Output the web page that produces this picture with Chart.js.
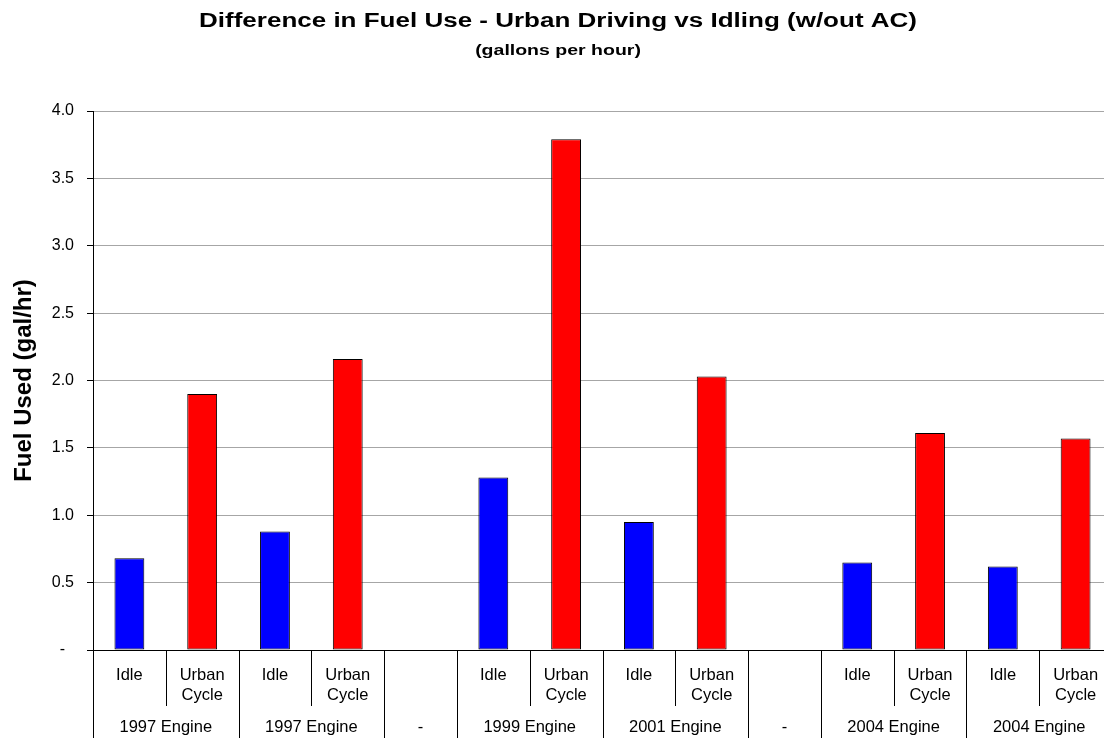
<!DOCTYPE html>
<html>
<head>
<meta charset="utf-8">
<title>Difference in Fuel Use - Urban Driving vs Idling (w/out AC)</title>
<script src="https://cdn.jsdelivr.net/npm/chart.js@4.4.1/dist/chart.umd.min.js"></script>
<style>
  html, body { margin: 0; padding: 0; background: #fff; overflow: hidden; }
  #wrap { position: relative; width: 1112px; height: 738px; }
</style>
</head>
<body>
<div id="wrap"><canvas id="fuel"></canvas></div>
<script>
// Engine test groups along the bottom axis ("-" marks an empty spacer column)
const engineGroups = ["1997 Engine", "1997 Engine", "-", "1999 Engine", "2001 Engine", "-", "2004 Engine", "2004 Engine"];
// Fuel burned, gallons per hour
const idleUse  = [0.68, 0.88, null, 1.28, 0.95, null, 0.65, 0.62];
const urbanUse = [1.90, 2.16, null, 3.79, 2.03, null, 1.61, 1.57];
// Per-column labels within each engine group
const modeLabels = ["Idle", "Urban Cycle"];
// Vertical axis ticks
const yTicks = [0, 0.5, 1.0, 1.5, 2.0, 2.5, 3.0, 3.5, 4.0];

const FONT = "'Liberation Sans', Arial, Helvetica, sans-serif";

// Expand the groups into individual columns
const columns = [];      // label for each column
const idleSeries = [];
const urbanSeries = [];
const groupSpans = [];   // [firstColumn, lastColumn, label]
engineGroups.forEach((g, gi) => {
  const start = columns.length;
  if (g === "-") {
    columns.push("");
    idleSeries.push(null);
    urbanSeries.push(null);
  } else {
    columns.push(modeLabels[0]);
    idleSeries.push(idleUse[gi]);
    urbanSeries.push(null);
    columns.push(modeLabels[1]);
    idleSeries.push(null);
    urbanSeries.push(urbanUse[gi]);
  }
  groupSpans.push([start, columns.length - 1, g]);
});

// Title, vertical axis title and the two-level category labels
const decorations = {
  id: "decorations",
  afterDraw(chart) {
    const ctx = chart.ctx;
    const xs = chart.scales.x;
    const area = chart.chartArea;
    ctx.save();
    ctx.fillStyle = "#000";

    // Heading (set slightly wide)
    const cx = 558;
    ctx.textAlign = "center";
    ctx.textBaseline = "alphabetic";
    ctx.save();
    ctx.translate(cx, 27);
    ctx.scale(1.3, 1);
    ctx.font = "bold 20px " + FONT;
    ctx.fillText("Difference in Fuel Use - Urban Driving vs Idling (w/out AC)", 0, 0);
    ctx.restore();
    ctx.save();
    ctx.translate(cx, 55);
    ctx.scale(1.3, 1);
    ctx.font = "bold 15px " + FONT;
    ctx.fillText("(gallons per hour)", 0, 0);
    ctx.restore();

    // Vertical axis title
    ctx.save();
    ctx.translate(31, (area.top + area.bottom) / 2);
    ctx.rotate(-Math.PI / 2);
    ctx.font = "bold 24px " + FONT;
    ctx.fillText("Fuel Used (gal/hr)", 0, 0);
    ctx.restore();

    // Column labels
    const step = xs.getPixelForValue(1) - xs.getPixelForValue(0);
    ctx.font = "16.5px " + FONT;
    columns.forEach((lab, i) => {
      const px = xs.getPixelForValue(i);
      lab.split(" ").forEach((line, k) => {
        if (line) ctx.fillText(line, px, 680 + k * 20);
      });
    });

    // Separators: short ones between columns, full ones between groups
    ctx.strokeStyle = "#000";
    ctx.lineWidth = 1;
    const groupEdges = new Set();
    groupSpans.forEach(([a, b]) => { groupEdges.add(a); groupEdges.add(b + 1); });
    for (let i = 0; i <= columns.length; i++) {
      const bx = Math.round(xs.getPixelForValue(i) - step / 2) + 0.5;
      const y2 = groupEdges.has(i) ? chart.height : 706;
      ctx.beginPath();
      ctx.moveTo(bx, area.bottom);
      ctx.lineTo(bx, y2);
      ctx.stroke();
    }

    // Engine group labels
    groupSpans.forEach(([a, b, lab]) => {
      const px = (xs.getPixelForValue(a) + xs.getPixelForValue(b)) / 2;
      ctx.fillText(lab, px, 732);
    });
    ctx.restore();
  }
};

new Chart(document.getElementById("fuel"), {
  type: "bar",
  data: {
    labels: columns,
    datasets: [
      {
        label: "Idle",
        data: idleSeries,
        backgroundColor: "#0000ff",
        borderColor: "#000",
        borderWidth: 1,
        borderSkipped: false,
        grouped: false,
        categoryPercentage: 1,
        barPercentage: 0.41
      },
      {
        label: "Urban Cycle",
        data: urbanSeries,
        backgroundColor: "#ff0000",
        borderColor: "#000",
        borderWidth: 1,
        borderSkipped: false,
        grouped: false,
        categoryPercentage: 1,
        barPercentage: 0.41
      }
    ]
  },
  options: {
    responsive: true,
    maintainAspectRatio: false,
    devicePixelRatio: 1,
    animation: false,
    layout: { padding: { top: 111, right: 0, bottom: 0, left: 0 } },
    plugins: {
      legend: { display: false },
      tooltip: { enabled: false },
      title: { display: false }
    },
    scales: {
      x: {
        type: "category",
        offset: true,
        grid: { display: false },
        ticks: { display: false },
        border: { display: true, color: "#000", width: 1 },
        afterFit(scale) { scale.height = 88; }
      },
      y: {
        min: yTicks[0],
        max: yTicks[yTicks.length - 1],
        afterBuildTicks(scale) { scale.ticks = yTicks.map(v => ({ value: v })); },
        ticks: {
          color: "#000",
          font: { family: FONT, size: 16 },
          padding: 13,
          callback: v => (v === 0 ? "-  " : v.toFixed(1))
        },
        grid: { color: "#a6a6a6", lineWidth: 1, tickLength: 6, tickColor: "#000" },
        border: { display: true, color: "#000", width: 1 },
        afterFit(scale) { scale.width = 93; }
      }
    }
  },
  plugins: [decorations]
});
</script>
</body>
</html>
